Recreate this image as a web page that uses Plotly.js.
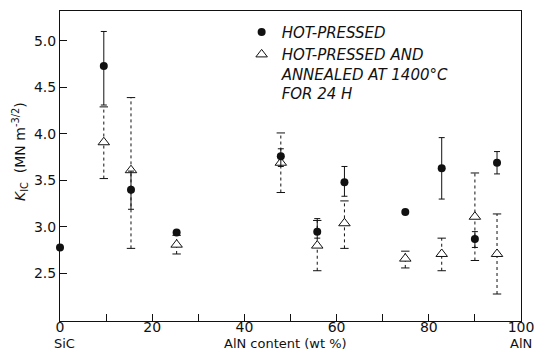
<!DOCTYPE html>
<html>
<head>
<meta charset="utf-8">
<script src="https://cdn.plot.ly/plotly-3.0.1.min.js"></script>
<style>html,body{margin:0;padding:0;background:#fff;}#chart{width:539px;height:358px;}</style>
</head>
<body>
<div id="chart"></div>
<script>
// Hot-pressed (filled circles)
const hpX  = [0, 9.5, 15.4, 25.3, 47.9, 55.8, 61.7, 74.9, 82.8, 90.0, 94.8];
const hpY  = [2.78, 4.73, 3.40, 2.94, 3.76, 2.95, 3.48, 3.16, 3.63, 2.87, 3.69];
const hpHi = [null, 5.10, 3.60, null, 3.84, 3.09, 3.65, null, 3.96, 2.95, 3.81];
const hpLo = [null, 4.31, 3.19, null, 3.65, 2.88, 3.33, null, 3.30, 2.78, 3.57];

// Hot-pressed and annealed at 1400°C for 24 h (open triangles)
const anX  = [9.5, 15.4, 25.3, 47.9, 55.8, 61.7, 74.9, 82.8, 90.0, 94.8];
const anY  = [3.91, 3.61, 2.81, 3.69, 2.80, 3.04, 2.66, 2.71, 3.11, 2.71];
const anHi = [4.29, 4.39, 2.91, 4.01, 3.07, 3.28, 2.74, 2.88, 3.58, 3.14];
const anLo = [3.52, 2.77, 2.71, 3.37, 2.53, 2.77, 2.56, 2.53, 2.64, 2.28];

const xTickVals = [0, 20, 40, 60, 80, 100];
const xTickText = ['0', '20', '40', '60', '80', '100'];
const yTickVals = [2.5, 3.0, 3.5, 4.0, 4.5, 5.0];

const hpName = 'HOT-PRESSED';
const anName = 'HOT-PRESSED AND<br>ANNEALED AT 1400°C<br>FOR 24 H';

const ink = '#111';

// dashed error lines for annealed series
const dashX = [], dashY = [];
anX.forEach((x, i) => { dashX.push(x, x, null); dashY.push(anLo[i], anHi[i], null); });
const capX = [], capY = [];
anX.forEach((x, i) => { capX.push(x, x); capY.push(anLo[i], anHi[i]); });

const traces = [
  {
    x: dashX, y: dashY, mode: 'lines', showlegend: false, hoverinfo: 'skip',
    line: {color: ink, width: 1, dash: '3px,3px'}, cliponaxis: false
  },
  {
    x: capX, y: capY, mode: 'markers', showlegend: false, hoverinfo: 'skip',
    marker: {symbol: 'line-ew', size: 6, line: {color: ink, width: 1}}, cliponaxis: false
  },
  {
    x: anX, y: anY, mode: 'markers', name: anName, type: 'scatter',
    marker: {symbol: 'triangle-up', size: 10, color: '#fff', line: {color: ink, width: 1}},
    cliponaxis: false
  },
  {
    x: hpX, y: hpY, mode: 'markers', name: hpName, type: 'scatter',
    marker: {symbol: 'circle', size: 8, color: ink, line: {width: 0}},
    error_y: {
      type: 'data', symmetric: false,
      array: hpHi.map((h, i) => h === null ? 0 : h - hpY[i]),
      arrayminus: hpLo.map((l, i) => l === null ? 0 : hpY[i] - l),
      color: ink, thickness: 1, width: 3
    },
    cliponaxis: false
  }
];

const layout = {
  width: 539, height: 358,
  margin: {l: 60, r: 18, t: 11, b: 37},
  paper_bgcolor: '#fff', plot_bgcolor: '#fff',
  font: {family: 'DejaVu Sans, sans-serif', size: 14, color: ink},
  showlegend: true,
  legend: {
    x: 0.394, y: 0.985, xanchor: 'left', yanchor: 'top',
    traceorder: 'reversed', valign: 'top',
    font: {family: 'DejaVu Sans, sans-serif', size: 15, style: 'italic', color: ink},
    bgcolor: 'rgba(0,0,0,0)', tracegroupgap: 0, itemwidth: 30
  },
  xaxis: {
    range: [0, 100], showgrid: false, zeroline: false,
    showline: true, mirror: true, linecolor: ink, linewidth: 1,
    ticks: 'inside', ticklen: 7, tickcolor: ink, tickwidth: 1,
    tickvals: xTickVals, ticktext: xTickText, ticklabelstandoff: -7,
    minor: {dtick: 10, tick0: 0, ticks: 'inside', ticklen: 7, tickcolor: ink, tickwidth: 1},
    tickfont: {size: 14}
  },
  yaxis: {
    range: [1.99, 5.32], showgrid: false, zeroline: false,
    showline: true, mirror: true, linecolor: ink, linewidth: 1,
    ticks: 'inside', ticklen: 7, tickcolor: ink, tickwidth: 1,
    tickvals: yTickVals, tickformat: '.1f',
    tickfont: {size: 14}
  },
  annotations: [
    {text: 'SiC', xref: 'x', x: 1, yref: 'paper', y: -0.073, xanchor: 'center', yanchor: 'middle',
     showarrow: false, font: {size: 13}, borderpad: 0},
    {text: 'AlN content (wt %)', xref: 'paper', x: 0.49, yref: 'paper', y: -0.073, xanchor: 'center', yanchor: 'middle',
     showarrow: false, font: {size: 13}, borderpad: 0},
    {text: 'AlN', xref: 'x', x: 100, yref: 'paper', y: -0.073, xanchor: 'center', yanchor: 'middle',
     showarrow: false, font: {size: 13}, borderpad: 0},
    {text: '<i>K</i><sub>IC</sub>  (MN m<sup>-3/2</sup>)', xref: 'paper', x: -0.087, yref: 'paper', y: 0.548,
     xanchor: 'center', yanchor: 'middle', textangle: -90, showarrow: false, font: {size: 14}}
  ]
};

Plotly.newPlot('chart', traces, layout, {displayModeBar: false, staticPlot: true});
</script>
</body>
</html>
